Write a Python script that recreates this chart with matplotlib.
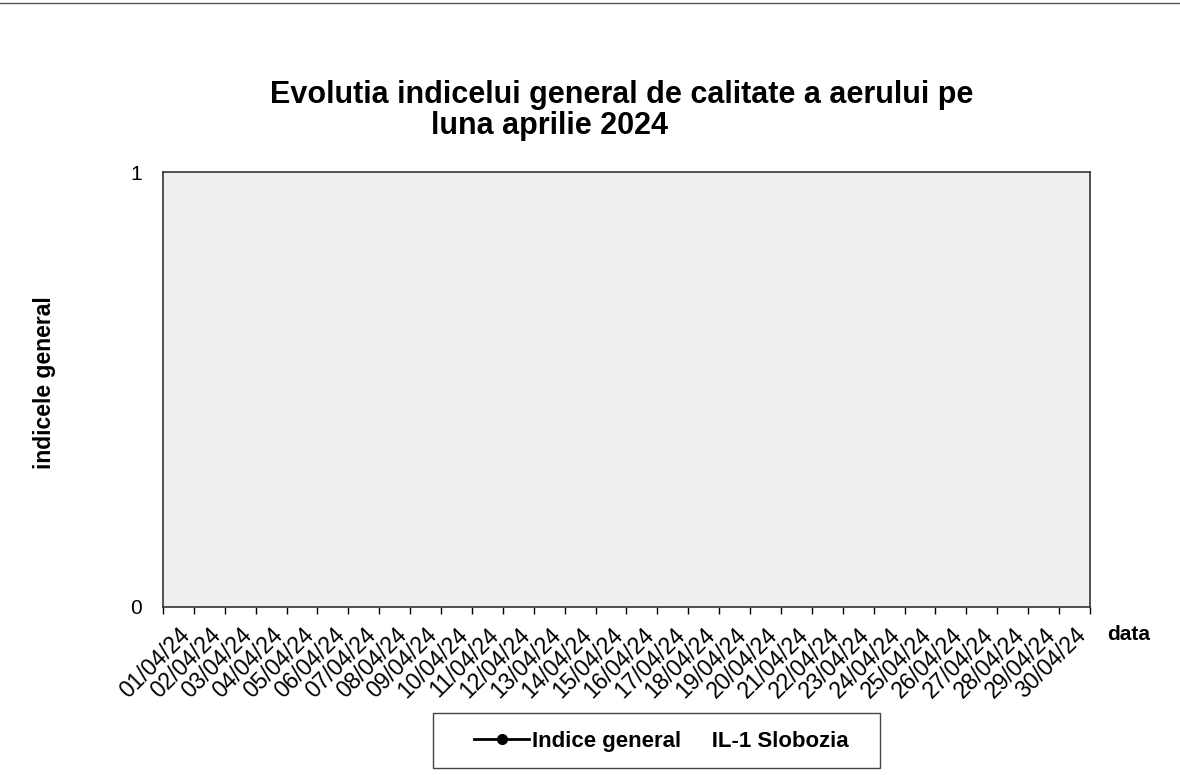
import numpy as np
import matplotlib
matplotlib.use("Agg")
import matplotlib.pyplot as plt
from matplotlib.patches import Rectangle
from matplotlib.lines import Line2D

plt.rcParams['font.family'] = ['Liberation Sans', 'DejaVu Sans']

# ---- data ----
dates = ["01/04/24", "02/04/24", "03/04/24", "04/04/24", "05/04/24", "06/04/24",
         "07/04/24", "08/04/24", "09/04/24", "10/04/24", "11/04/24", "12/04/24",
         "13/04/24", "14/04/24", "15/04/24", "16/04/24", "17/04/24", "18/04/24",
         "19/04/24", "20/04/24", "21/04/24", "22/04/24", "23/04/24", "24/04/24",
         "25/04/24", "26/04/24", "27/04/24", "28/04/24", "29/04/24", "30/04/24"]
# no values are plotted in the reference (series empty)
indice_general = [np.nan, np.nan, np.nan, np.nan, np.nan, np.nan,
                  np.nan, np.nan, np.nan, np.nan, np.nan, np.nan,
                  np.nan, np.nan, np.nan, np.nan, np.nan, np.nan,
                  np.nan, np.nan, np.nan, np.nan, np.nan, np.nan,
                  np.nan, np.nan, np.nan, np.nan, np.nan, np.nan]
y_ticks = [0, 1]
series_label = "Indice general     IL-1 Slobozia"
title_line1 = "Evolutia indicelui general de calitate a aerului pe"
title_line2 = "luna aprilie 2024"

W, H = 1180, 775
fig = plt.figure(figsize=(W / 100, H / 100), dpi=100)

def fx(px):
    return px / W

def fy(py):
    return 1 - py / H

left, right, top, bottom = 163, 1090, 172, 607
ax = fig.add_axes([fx(left), fy(bottom), fx(right - left), (bottom - top) / H])
ax.set_facecolor('#efefef')

x = np.arange(len(dates))
line, = ax.plot(x, indice_general, color='black', marker='o', markersize=7,
                linewidth=2, label=series_label)

ax.set_xlim(-0.5, len(dates) - 0.5)
ax.set_ylim(0, 1)
ax.set_yticks(y_ticks)
ax.set_yticklabels([str(t) for t in y_ticks], fontsize=15)
ax.tick_params(axis='y', length=0, pad=15)

ax.set_xticks(x)
ax.set_xticklabels(dates, rotation=45, ha='right', va='top',
                   rotation_mode='anchor', fontsize=16.5)
ax.tick_params(axis='x', which='major', length=0, pad=12)
ax.set_xticks(np.arange(len(dates) + 1) - 0.5, minor=True)
ax.tick_params(axis='x', which='minor', length=5, width=1, direction='out')

for s in ax.spines.values():
    s.set_color('#333333')
    s.set_linewidth(1.2)

# titles
fig.text(fx(622), fy(95), title_line1, ha='center', va='center',
         fontsize=22, fontweight='bold')
fig.text(fx(431), fy(126), title_line2, ha='left', va='center',
         fontsize=22, fontweight='bold')

# axis labels
fig.text(fx(45), fy(383), "indicele general", rotation=90, ha='center',
         va='center', fontsize=16.5, fontweight='bold')
fig.text(fx(1107), fy(635), "data", ha='left', va='center',
         fontsize=15, fontweight='bold')

# legend box
fig.patches.append(Rectangle((fx(433), fy(768)), fx(880 - 433), (768 - 713) / H,
                             transform=fig.transFigure, fill=False,
                             edgecolor='#444444', linewidth=1))
fig.legend(handles=[line], loc='center left',
           bbox_to_anchor=(fx(465), fy(741)), frameon=False,
           prop={'weight': 'bold', 'size': 16}, handlelength=2.5,
           handletextpad=0.1, borderaxespad=0)

# scan border at top
fig.add_artist(Line2D([0, 1], [fy(3), fy(3)], transform=fig.transFigure,
                      color='#555555', linewidth=1))

fig.savefig('out.png', dpi=100)
